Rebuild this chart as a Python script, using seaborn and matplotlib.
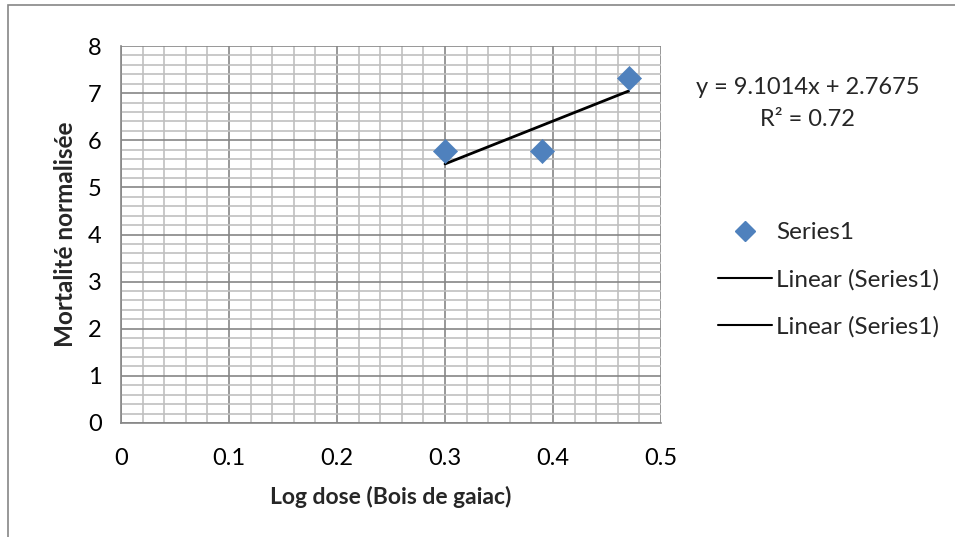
import numpy as np
import pandas as pd
import matplotlib.pyplot as plt
import seaborn as sns
from matplotlib.lines import Line2D
from matplotlib.patches import Rectangle
from matplotlib.ticker import MultipleLocator

# --- data ---
log_dose = [0.30, 0.39, 0.47]
mortalite = [5.77, 5.77, 7.33]
slope = 9.1014
intercept = 2.7675
r2 = 0.72

sns.set_style('white')
plt.rcParams['font.family'] = ['Lato', 'DejaVu Sans']

df = pd.DataFrame({'x': log_dose, 'y': mortalite})
trend = pd.DataFrame({'x': [min(log_dose), max(log_dose)]})
trend['y'] = slope * trend['x'] + intercept

fig = plt.figure(figsize=(9.55, 5.37), dpi=100)
ax = fig.add_axes([0.1267, 0.2123, 0.5655, 0.702])

# grid like excel: major + minor
ax.xaxis.set_major_locator(MultipleLocator(0.1))
ax.xaxis.set_minor_locator(MultipleLocator(0.02))
ax.yaxis.set_major_locator(MultipleLocator(1))
ax.yaxis.set_minor_locator(MultipleLocator(0.2))
ax.grid(which='minor', color='#c0c0c0', linewidth=1.2)
ax.grid(which='major', color='#868686', linewidth=1.2)
ax.set_axisbelow(True)

sns.lineplot(data=trend, x='x', y='y', color='black', linewidth=2, ax=ax, legend=False)
sns.scatterplot(data=df, x='x', y='y', marker='D', s=150, color='#4F81BD',
                edgecolor='#4F81BD', linewidth=0.5, ax=ax, legend=False, zorder=5)

ax.set_xlim(0, 0.5)
ax.set_ylim(0, 8)
ax.set_xticks(np.arange(0, 0.51, 0.1))
ax.set_xticklabels(['0', '0.1', '0.2', '0.3', '0.4', '0.5'])
ax.set_yticks(range(0, 9))

for s in ['top', 'right']:
    ax.spines[s].set_visible(False)
for s in ['left', 'bottom']:
    ax.spines[s].set_color('#868686')
    ax.spines[s].set_linewidth(1.2)

ax.tick_params(axis='both', which='major', direction='out', length=6, width=1.2,
               color='#868686', labelsize=17, labelcolor='black', pad=8)
ax.tick_params(axis='both', which='minor', length=0)
ax.tick_params(axis='x', pad=12)

ax.set_xlabel('Log dose (Bois de gaiac)', fontsize=16.5, fontweight='bold', labelpad=12)
ax.set_ylabel('Mortalité normalisée', fontsize=17.5, fontweight='bold', labelpad=8)

# equation of the trendline
fig.text(0.846, 0.837, f'y = {slope}x + {intercept}', ha='center', va='center', fontsize=17)
fig.text(0.846, 0.777, f'R² = {r2}', ha='center', va='center', fontsize=17)

handles = [
    Line2D([], [], marker='D', linestyle='none', color='#4F81BD', markersize=10),
    Line2D([], [], color='black', linewidth=1.5),
    Line2D([], [], color='black', linewidth=1.5),
]
labels = ['Series1', 'Linear (Series1)', 'Linear (Series1)']
fig.legend(handles, labels, loc='center left', bbox_to_anchor=(0.729, 0.479),
           frameon=False, fontsize=17.5, handlelength=2.2, handletextpad=0.2,
           labelspacing=1.05)

# outer chart frame
fig.patches.append(Rectangle((0.008, -0.01), 1.1, 1.0, transform=fig.transFigure,
                             fill=False, edgecolor='#868686', linewidth=1.2))

fig.savefig('out.png', dpi=100)
